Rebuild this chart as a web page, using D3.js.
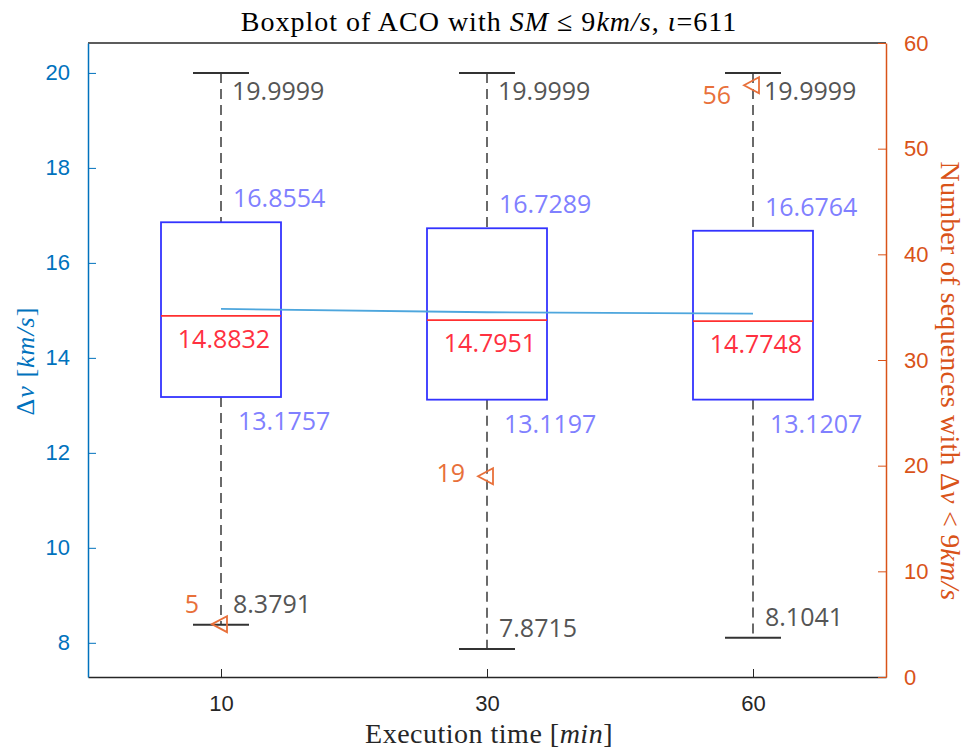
<!DOCTYPE html>
<html lang="en">
<head>
<meta charset="UTF-8">
<title>Boxplot of ACO</title>
<script src="https://d3js.org/d3.v7.min.js"></script>
<style>
  body { margin: 0; background: #fff; }
  .tick text { font-family: "Liberation Sans", Arial, sans-serif; font-size: 22px; }
  .lab { font-family: "Open Sans", "Noto Sans", sans-serif; font-size: 25px; }
  .tex { font-family: "Liberation Serif", "DejaVu Serif", serif; }
</style>
</head>
<body>
<svg id="svg" width="968" height="753"></svg>
<script>

// data
let times = ['10', '30', '60'];
let lowerWhisker = [8.3791, 7.8715, 8.1041];
let q1 = [13.1757, 13.1197, 13.1207];
let median = [14.8832, 14.7951, 14.7748];
let q3 = [16.8554, 16.7289, 16.6764];
let upperWhisker = [19.9999, 19.9999, 19.9999];
let means = [15.03, 14.96, 14.93];
let counts = [5, 19, 56];
let leftTicks = [8, 10, 12, 14, 16, 18, 20];
let rightTicks = [0, 10, 20, 30, 40, 50, 60];

let svg = d3.select('#svg');
let plotL = 88, plotR = 886, plotT = 43, plotB = 677;

let x = d3.scalePoint().domain(times).range([plotL, plotR]).padding(0.5);
let y = d3.scaleLinear().domain([7.28, 20.63]).range([plotB, plotT]);
let y2 = d3.scaleLinear().domain([0, 60]).range([plotB, plotT]);

let blue = '#0072BD', orange = '#D95319';
let boxHalf = 60, capHalf = 28;
// vertical nudges for the count labels, placed by hand in the original
let countDy = [-11, 6, 19];

// frame: top line
svg.append('line').attr('x1', plotL).attr('x2', plotR).attr('y1', plotT).attr('y2', plotT)
    .attr('stroke', '#262626').attr('stroke-width', 1.5);

// axes
let xAxis = svg.append('g').attr('transform', `translate(0,${plotB})`)
    .call(d3.axisBottom(x).tickSizeInner(-8).tickSizeOuter(0).tickPadding(18));
xAxis.select('.domain').attr('stroke', '#262626').attr('stroke-width', 1.5);
xAxis.selectAll('.tick line').attr('stroke', '#262626');
xAxis.selectAll('.tick text').attr('fill', '#262626');

let yAxis = svg.append('g').attr('transform', `translate(${plotL},0)`)
    .call(d3.axisLeft(y).tickValues(leftTicks).tickSizeInner(-8).tickSizeOuter(0).tickPadding(18));
yAxis.select('.domain').attr('stroke', blue).attr('stroke-width', 1.5);
yAxis.selectAll('.tick line').attr('stroke', blue);
yAxis.selectAll('.tick text').attr('fill', blue);

let y2Axis = svg.append('g').attr('transform', `translate(${plotR},0)`)
    .call(d3.axisRight(y2).tickValues(rightTicks).tickSizeInner(-8).tickSizeOuter(0).tickPadding(18));
y2Axis.select('.domain').attr('stroke', orange).attr('stroke-width', 1.5);
y2Axis.selectAll('.tick line').attr('stroke', orange);
y2Axis.selectAll('.tick text').attr('fill', orange);

// boxes
let idx = d3.range(times.length);
let g = svg.append('g');

// whiskers
g.selectAll('.wu').data(idx).enter().append('line')
    .attr('x1', i => x(times[i])).attr('x2', i => x(times[i]))
    .attr('y1', i => y(upperWhisker[i])).attr('y2', i => y(q3[i]))
    .attr('stroke', '#6a6a6a').attr('stroke-width', 2).attr('stroke-dasharray', '10,6');
g.selectAll('.wl').data(idx).enter().append('line')
    .attr('x1', i => x(times[i])).attr('x2', i => x(times[i]))
    .attr('y1', i => y(q1[i])).attr('y2', i => y(lowerWhisker[i]))
    .attr('stroke', '#6a6a6a').attr('stroke-width', 2).attr('stroke-dasharray', '10,6');

// caps
[upperWhisker, lowerWhisker].forEach(arr => {
  g.selectAll(null).data(idx).enter().append('line')
      .attr('x1', i => x(times[i]) - capHalf).attr('x2', i => x(times[i]) + capHalf)
      .attr('y1', i => y(arr[i])).attr('y2', i => y(arr[i]))
      .attr('stroke', '#333').attr('stroke-width', 2);
});

g.selectAll('.box').data(idx).enter().append('rect')
    .attr('x', i => x(times[i]) - boxHalf).attr('width', boxHalf * 2)
    .attr('y', i => y(q3[i])).attr('height', i => y(q1[i]) - y(q3[i]))
    .attr('fill', 'none').attr('stroke', '#3333ff').attr('stroke-width', 1.8);

g.selectAll('.med').data(idx).enter().append('line')
    .attr('x1', i => x(times[i]) - boxHalf).attr('x2', i => x(times[i]) + boxHalf)
    .attr('y1', i => y(median[i])).attr('y2', i => y(median[i]))
    .attr('stroke', '#ff3030').attr('stroke-width', 1.8);

// mean line
svg.append('path').datum(idx)
    .attr('d', d3.line().x(i => x(times[i])).y(i => y(means[i])))
    .attr('fill', 'none').attr('stroke', '#4DA6DD').attr('stroke-width', 1.8);

// count markers (left triangles, right axis)
svg.selectAll('.tri').data(idx).enter().append('path')
    .attr('transform', i => `translate(${x(times[i])},${y2(counts[i])})`)
    .attr('d', 'M-9,0 L6,-8 L6,8 Z')
    .attr('fill', 'none').attr('stroke', '#E8703A').attr('stroke-width', 1.8);

// value labels
let fmt = v => d3.format('.4f')(v);
let lbl = svg.append('g').attr('class', 'lab');
lbl.selectAll('.lu').data(idx).enter().append('text')
    .attr('x', i => x(times[i]) + 11).attr('y', i => y(upperWhisker[i]) + 27)
    .attr('fill', '#555').text(i => fmt(upperWhisker[i]));
lbl.selectAll('.lq3').data(idx).enter().append('text')
    .attr('x', i => x(times[i]) + 12).attr('y', i => y(q3[i]) - 15)
    .attr('fill', '#8080ff').text(i => fmt(q3[i]));
lbl.selectAll('.lmed').data(idx).enter().append('text')
    .attr('x', i => x(times[i]) + 3).attr('y', i => y(median[i]) + 32)
    .attr('text-anchor', 'middle')
    .attr('fill', '#ff3040').text(i => fmt(median[i]));
lbl.selectAll('.lq1').data(idx).enter().append('text')
    .attr('x', i => x(times[i]) + 17).attr('y', i => y(q1[i]) + 33)
    .attr('fill', '#8080ff').text(i => fmt(q1[i]));
lbl.selectAll('.ll').data(idx).enter().append('text')
    .attr('x', i => x(times[i]) + 12).attr('y', i => y(lowerWhisker[i]) - 12)
    .attr('fill', '#555').text(i => fmt(lowerWhisker[i]));
lbl.selectAll('.lc').data(idx).enter().append('text')
    .attr('x', i => x(times[i]) - 22).attr('y', i => y2(counts[i]) + countDy[i])
    .attr('text-anchor', 'end')
    .attr('fill', '#E8703A').text(i => counts[i]);

// title and axis labels
let title = svg.append('text').attr('class', 'tex')
    .attr('x', (plotL + plotR) / 2 + 2).attr('y', 31).attr('text-anchor', 'middle')
    .attr('font-size', 28).attr('letter-spacing', 1).attr('fill', '#000');
title.append('tspan').text('Boxplot of ACO with ');
title.append('tspan').attr('font-style', 'italic').text('SM');
title.append('tspan').text('  ≤  9');
title.append('tspan').attr('font-style', 'italic').text('km/s');
title.append('tspan').text(', ');
title.append('tspan').attr('font-style', 'italic').text('ι');
title.append('tspan').text('=611');

let xl = svg.append('text').attr('class', 'tex')
    .attr('x', (plotL + plotR) / 2 + 2).attr('y', 743).attr('text-anchor', 'middle')
    .attr('font-size', 28).attr('letter-spacing', 0.5).attr('fill', '#262626');
xl.append('tspan').text('Execution time [');
xl.append('tspan').attr('font-style', 'italic').text('min');
xl.append('tspan').text(']');

let yl = svg.append('text').attr('class', 'tex')
    .attr('transform', `translate(34,361) rotate(-90)`)
    .attr('text-anchor', 'middle').attr('font-size', 26).attr('letter-spacing', 1).attr('fill', blue);
yl.append('tspan').text('Δ');
yl.append('tspan').attr('font-style', 'italic').text('v');
yl.append('tspan').text(' [');
yl.append('tspan').attr('font-style', 'italic').text('km/s');
yl.append('tspan').text(']');

let yl2 = svg.append('text').attr('class', 'tex')
    .attr('transform', `translate(941,381) rotate(90)`)
    .attr('text-anchor', 'middle').attr('font-size', 28).attr('letter-spacing', 0.2).attr('fill', orange);
yl2.append('tspan').text('Number of sequences with Δ');
yl2.append('tspan').attr('font-style', 'italic').text('v');
yl2.append('tspan').text(' < 9');
yl2.append('tspan').attr('font-style', 'italic').text('km/s');

</script>
</body>
</html>
